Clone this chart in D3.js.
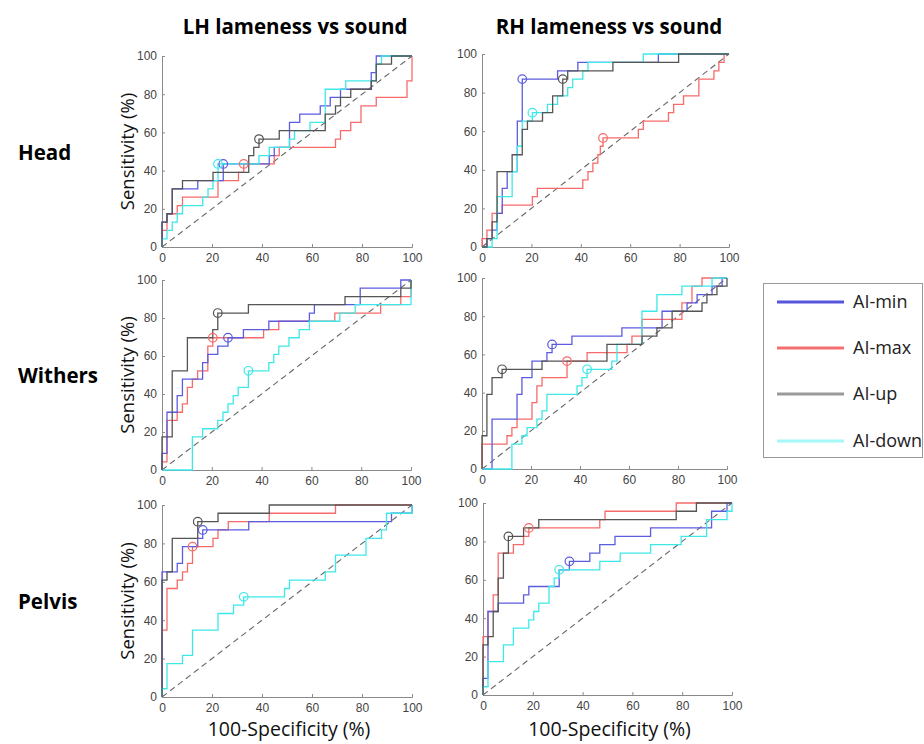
<!DOCTYPE html>
<html><head><meta charset="utf-8">
<script src="https://cdn.jsdelivr.net/npm/d3@7"></script>
<style>body{margin:0;background:#fff;}svg{display:block;}</style>
</head><body>
<script>
// ---------------- DATA ----------------
const columnTitles = ["LH lameness vs sound", "RH lameness vs sound"];
const rowLabels = ["Head", "Withers", "Pelvis"];
const seriesNames = ["AI-min", "AI-max", "AI-up", "AI-down"];
const tickValues = [0, 20, 40, 60, 80, 100];
const xLabel = "100-Specificity (%)";
const yLabel = "Sensitivity (%)";

// Step ROC curves: each [x, y] = at 100-specificity x, sensitivity rises to y
// LH Head
const lhHeadMin  = [[0,0],[0,13],[2,17.4],[4.1,30.4],[14.3,34.8],[24.5,43.5],[42.9,47.8],[44.9,52.2],[51,65.2],[55.1,69.6],[63.3,73.9],[67.3,78.3],[71.4,82.6],[83.7,91.3],[85.7,100],[100,100]];
const lhHeadMax  = [[0,0],[0,8.7],[2,17.4],[6.1,21.7],[8.2,26.1],[22.4,34.8],[30.6,39.1],[32.7,43.5],[44.9,47.8],[46.9,52.2],[69.4,56.5],[71.4,60.9],[75.5,65.2],[79.6,73.9],[85.7,78.3],[98,87],[100,100]];
const lhHeadUp   = [[0,0],[0,13],[2,17.4],[4.1,30.4],[8.2,34.8],[20.4,39.1],[34.7,47.8],[36.7,52.2],[38.8,56.5],[46.9,60.9],[65.3,69.6],[69.4,73.9],[71.4,78.3],[75.5,82.6],[83.7,87],[85.7,95.7],[91.8,100],[100,100]];
const lhHeadDown = [[0,0],[0,4.3],[2,8.7],[4.1,13],[6.1,17.4],[8.2,21.7],[16.3,26.1],[18.4,30.4],[20.4,34.8],[22.4,43.5],[38.8,47.8],[42.9,52.2],[51,56.5],[53,60.9],[59.2,65.2],[65.3,82.6],[73.5,87],[85.7,95.7],[87.8,100],[100,100]];
// RH Head
const rhHeadMin  = [[0,0],[2,4.3],[4.1,8.7],[6.1,17.4],[8.2,30.4],[10.2,39.1],[14.3,65.2],[16.3,87],[30.6,91.3],[38.8,95.7],[71.4,100],[100,100]];
const rhHeadMax  = [[0,0],[0,4.3],[2,8.7],[4.1,17.4],[8.2,21.7],[20.4,26.1],[22.4,30.4],[40.8,34.8],[42.9,39.1],[44.9,43.5],[46.9,47.8],[47.9,52.2],[49,56.5],[63.3,60.9],[65.3,65.2],[75.5,69.6],[77.6,73.9],[81.6,78.3],[87.8,87],[93.9,91.3],[95.9,95.7],[98,100],[100,100]];
const rhHeadUp   = [[0,0],[2,4.3],[4.1,13],[6.1,39.1],[12.2,47.8],[16.3,60.9],[18.4,65.2],[24.5,69.6],[28.6,78.3],[32.7,87],[34.7,91.3],[53,95.7],[79.6,100],[100,100]];
const rhHeadDown = [[0,0],[4.1,4.3],[6.1,26.1],[12.2,39.1],[14.3,52.2],[16.3,65.2],[20.4,69.6],[26.5,73.9],[30.6,78.3],[34.7,82.6],[36.7,87],[40.8,91.3],[42.9,95.7],[65.3,100],[100,100]];
// LH Withers
const lhWithersMin  = [[0,0],[0,8.7],[2,30.4],[6.1,39.1],[8.2,47.8],[16.3,56.5],[18.4,60.9],[22.4,65.2],[26.5,69.6],[32.7,73.9],[42.9,78.3],[59.2,82.6],[61.2,87],[79.6,95.7],[95.9,100],[100,100]];
const lhWithersMax  = [[0,0],[0,4.3],[2,26.1],[6.1,30.4],[8.2,34.8],[10.2,43.5],[12.2,47.8],[14.3,52.2],[18.4,65.2],[20.4,69.6],[40.8,73.9],[46.9,78.3],[69.4,82.6],[87.8,87],[95.9,91.3],[100,100]];
const lhWithersUp   = [[0,0],[0,17.4],[4.1,52.2],[10.2,69.6],[20.4,73.9],[22.4,82.6],[34.7,87],[73.5,91.3],[95.9,95.7],[100,100]];
const lhWithersDown = [[0,0],[12.2,17.4],[16.3,21.7],[22.4,26.1],[24.5,30.4],[26.5,34.8],[28.6,39.1],[30.6,43.5],[34.7,52.2],[42.9,56.5],[44.9,60.9],[46.9,65.2],[51,69.6],[55.1,73.9],[59.2,78.3],[71.4,82.6],[77.6,87],[100,95.7],[100,100]];
// RH Withers
const rhWithersMin  = [[0,0],[4.1,26.1],[14.3,39.1],[16.3,47.8],[20.4,56.5],[26.5,60.9],[28.6,65.2],[36.7,69.6],[57.1,73.9],[73.5,82.6],[83.7,87],[87.8,91.3],[93.9,95.7],[98,100],[100,100]];
const rhWithersMax  = [[0,0],[0,13],[10.2,17.4],[12.2,21.7],[14.3,26.1],[20.4,34.8],[22.4,43.5],[24.5,47.8],[34.7,56.5],[42.9,60.9],[59.2,65.2],[61.2,69.6],[65.3,78.3],[81.6,87],[85.7,95.7],[89.8,100],[100,100]];
const rhWithersUp   = [[0,0],[0,17.4],[2,39.1],[4.1,47.8],[8.2,52.2],[24.5,56.5],[51,65.2],[65.3,69.6],[71.4,73.9],[77.6,82.6],[89.8,87],[91.8,91.3],[95.9,95.7],[100,100]];
const rhWithersDown = [[0,0],[12.2,13],[16.3,17.4],[18.4,21.7],[22.4,26.1],[24.5,30.4],[26.5,39.1],[38.8,43.5],[40.8,47.8],[42.9,52.2],[53,56.5],[55.1,65.2],[65.3,82.6],[71.4,91.3],[81.6,95.7],[93.9,100],[100,100]];
// LH Pelvis
const lhPelvisMin  = [[0,0],[0,65.2],[6.1,69.6],[8.2,78.3],[14.3,82.6],[16.3,87],[34.7,91.3],[91.8,95.7],[100,100]];
const lhPelvisMax  = [[0,0],[0,34.8],[2,56.5],[6.1,60.9],[8.2,65.2],[10.2,69.6],[12.2,78.3],[20.4,82.6],[22.4,87],[26.5,91.3],[42.9,95.7],[69.4,100],[100,100]];
const lhPelvisUp   = [[0,0],[0,60.9],[2,65.2],[4.1,82.6],[14.3,91.3],[22.4,95.7],[42.9,100],[100,100]];
const lhPelvisDown = [[0,0],[0,4.3],[2,17.4],[8.2,21.7],[12.2,34.8],[22.4,43.5],[28.6,47.8],[32.7,52.2],[49,56.5],[51,60.9],[65.3,65.2],[69.4,73.9],[81.6,82.6],[87.8,87],[89.8,95.7],[100,100]];
// RH Pelvis
const rhPelvisMin  = [[0,0],[0,8.7],[2,43.5],[6.1,47.8],[16.3,52.2],[18.4,56.5],[30.6,65.2],[34.7,69.6],[42.9,73.9],[46.9,78.3],[53,82.6],[67.3,87],[91.8,95.7],[98,100],[100,100]];
const rhPelvisMax  = [[0,0],[0,30.4],[2,43.5],[4.1,52.2],[6.1,73.9],[12.2,78.3],[16.3,82.6],[18.4,87],[46.9,91.3],[49,95.7],[77.6,100],[100,100]];
const rhPelvisUp   = [[0,0],[0,26.1],[2,30.4],[4.1,43.5],[6.1,60.9],[8.2,73.9],[10.2,82.6],[16.3,87],[22.4,91.3],[77.6,95.7],[85.7,100],[100,100]];
const rhPelvisDown = [[0,0],[0,4.3],[2,17.4],[8.2,26.1],[12.2,34.8],[18.4,39.1],[20.4,43.5],[22.4,47.8],[26.5,56.5],[28.6,60.9],[30.6,65.2],[46.9,69.6],[55.1,73.9],[67.3,78.3],[79.6,82.6],[89.8,91.3],[98,95.7],[100,100]];

// Optimal cut-off points (order: min, max, up, down)
const lhHeadCut    = [[24.5,43.5],[32.7,43.5],[38.8,56.5],[22.4,43.5]];
const rhHeadCut    = [[16.3,87],[49,56.5],[32.7,87],[20.4,69.6]];
const lhWithersCut = [[26.5,69.6],[20.4,69.6],[22.4,82.6],[34.7,52.2]];
const rhWithersCut = [[28.6,65.2],[34.7,56.5],[8.2,52.2],[42.9,52.2]];
const lhPelvisCut  = [[16.3,87],[12.2,78.3],[14.3,91.3],[32.7,52.2]];
const rhPelvisCut  = [[34.7,69.6],[18.4,87],[10.2,82.6],[30.6,65.2]];

// ---------------- LAYOUT / STYLE ----------------
const curveColors  = ["#5c5ce0", "#f76a6a", "#555555", "#3ee8e8"];
const legendColors = ["#5656dc", "#f47070", "#9a9a9a", "#a6f8f8"];

const panels = [
  {row:0,col:0,curves:[lhHeadMin,lhHeadMax,lhHeadUp,lhHeadDown],cuts:lhHeadCut,x0:162,x1:412,y0:247,y1:56},
  {row:0,col:1,curves:[rhHeadMin,rhHeadMax,rhHeadUp,rhHeadDown],cuts:rhHeadCut,x0:482,x1:729,y0:247,y1:54},
  {row:1,col:0,curves:[lhWithersMin,lhWithersMax,lhWithersUp,lhWithersDown],cuts:lhWithersCut,x0:162,x1:411,y0:470,y1:280},
  {row:1,col:1,curves:[rhWithersMin,rhWithersMax,rhWithersUp,rhWithersDown],cuts:rhWithersCut,x0:482,x1:727,y0:469,y1:278},
  {row:2,col:0,curves:[lhPelvisMin,lhPelvisMax,lhPelvisUp,lhPelvisDown],cuts:lhPelvisCut,x0:162,x1:412,y0:697,y1:505},
  {row:2,col:1,curves:[rhPelvisMin,rhPelvisMax,rhPelvisUp,rhPelvisDown],cuts:rhPelvisCut,x0:483,x1:732,y0:695,y1:503}
];

const svg = d3.select("body").append("svg").attr("width",924).attr("height",744)
  .style("font-family","'Liberation Sans', Arial, sans-serif");

const drawOrder = [1,0,3,2];

panels.forEach(p => {
  const xs = d3.scaleLinear().domain([0,100]).range([p.x0,p.x1]);
  const ys = d3.scaleLinear().domain([0,100]).range([p.y0,p.y1]);
  const g = svg.append("g");

  const xa = g.append("g").attr("transform",`translate(0,${p.y0})`)
    .call(d3.axisBottom(xs).tickValues(tickValues).tickSize(-3).tickPadding(6).tickFormat(d3.format("d")));
  const ya = g.append("g").attr("transform",`translate(${p.x0},0)`)
    .call(d3.axisLeft(ys).tickValues(tickValues).tickSize(-3).tickPadding(5).tickFormat(d3.format("d")));
  [xa,ya].forEach(a=>{
    a.select(".domain").attr("stroke","#8a8a8a").attr("stroke-width",1);
    a.selectAll(".tick line").attr("stroke","#8a8a8a");
    a.selectAll(".tick text").attr("fill","#444").style("font-size","12px").style("font-family","'Liberation Sans', Arial, sans-serif");
  });

  // chance diagonal
  g.append("line").attr("x1",xs(0)).attr("y1",ys(0)).attr("x2",xs(100)).attr("y2",ys(100))
    .attr("stroke","#666").attr("stroke-width",1.1).attr("stroke-dasharray","6,4");

  const line = d3.line().x(d=>xs(d[0])).y(d=>ys(d[1])).curve(d3.curveStepAfter);
  drawOrder.forEach(i => {
    g.append("path").datum(p.curves[i]).attr("d",line)
      .attr("fill","none").attr("stroke",curveColors[i]).attr("stroke-width",1.3);
  });
  drawOrder.forEach(i => {
    g.append("circle").attr("cx",xs(p.cuts[i][0])).attr("cy",ys(p.cuts[i][1])).attr("r",4.3)
      .attr("fill","none").attr("stroke",curveColors[i]).attr("stroke-width",1.2);
  });

  if (p.col===0) {
    const cy = (p.y0+p.y1)/2;
    svg.append("text").attr("transform",`translate(134,${cy}) rotate(-90)`)
      .attr("text-anchor","middle").attr("fill","#111")
      .style("font-family","'Open Sans', sans-serif").style("font-size","18.5px").text(yLabel);
    svg.append("text").attr("x",18).attr("y",cy+8).attr("fill","#000")
      .style("font-family","'Open Sans', sans-serif").style("font-weight","bold").style("font-size","20.5px")
      .text(rowLabels[p.row]);
  }
  if (p.row===0) {
    svg.append("text").attr("x",p.col===0?295:609).attr("y",34).attr("text-anchor","middle").attr("fill","#000")
      .style("font-family","'Open Sans', sans-serif").style("font-weight","bold").style("font-size","20.5px")
      .text(columnTitles[p.col]);
  }
  if (p.row===2) {
    svg.append("text").attr("x",(p.x0+p.x1)/2+2).attr("y",736).attr("text-anchor","middle").attr("fill","#111")
      .style("font-family","'Open Sans', sans-serif").style("font-size","19.5px").text(xLabel);
  }
});

// legend
const lg = svg.append("g");
lg.append("rect").attr("x",763.5).attr("y",283.5).attr("width",159).attr("height",174)
  .attr("fill","#fff").attr("stroke","#999").attr("stroke-width",1);
const legendY = [302,348,394,441];
seriesNames.forEach((n,i)=>{
  lg.append("line").attr("x1",777).attr("x2",844).attr("y1",legendY[i]).attr("y2",legendY[i])
    .attr("stroke",legendColors[i]).attr("stroke-width",3);
  lg.append("text").attr("x",853).attr("y",legendY[i]+6).attr("fill","#222")
    .style("font-family","'Open Sans', sans-serif").style("font-size","18px").text(n);
});
</script>
</body></html>
